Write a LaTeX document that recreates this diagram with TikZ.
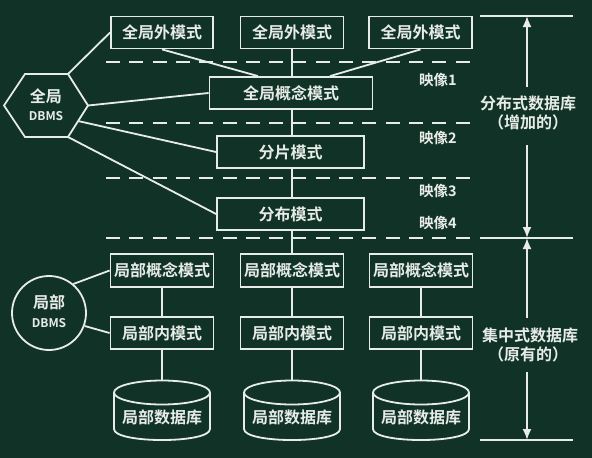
\documentclass[tikz,border=0pt]{standalone}
\usepackage{fontspec}
\newfontfamily\cjk{Noto Sans CJK SC}[UprightFont=* Bold]
\usetikzlibrary{arrows.meta}
\definecolor{board}{RGB}{17,51,39}
\definecolor{chalk}{RGB}{232,236,232}
\begin{document}
\begin{tikzpicture}[x=1pt,y=-1pt,
  every node/.style={text=chalk,font=\cjk\fontsize{16}{18}\selectfont},
  boxnode/.style={draw=chalk,line width=1.8pt,minimum height=32pt,inner sep=0pt},
  conn/.style={draw=chalk,line width=1.8pt},
  dashline/.style={draw=chalk,line width=1.8pt,dash pattern=on 14pt off 9.3pt},
  lbl/.style={font=\cjk\fontsize{14.5}{16}\selectfont},
  dbms/.style={font=\cjk\fontsize{12}{13}\selectfont},
  arr/.style={draw=chalk,line width=1.8pt,-{Latex[length=11pt,width=9pt]}}]
\fill[board] (0,0) rectangle (592,458);
\useasboundingbox (0,0) rectangle (592,458);
% top external schemas
\node[boxnode,minimum width=102pt] (g1) at (162,32.5) {全局外模式};
\node[boxnode,minimum width=103pt] (g2) at (292,32.5) {全局外模式};
\node[boxnode,minimum width=103pt] (g3) at (420.5,32.5) {全局外模式};
\node[boxnode,minimum width=163pt] (gc) at (291,93) {全局概念模式};
\node[boxnode,minimum width=147pt] (fp) at (290.5,152) {分片模式};
\node[boxnode,minimum width=147pt] (fb) at (290.5,214) {分布模式};
% local
\foreach \i/\x in {1/162,2/292,3/421}{
  \node[boxnode,minimum width=103pt,minimum height=33pt] (lc\i) at (\x,270.5) {局部概念模式};
  \node[boxnode,minimum width=103pt] (li\i) at (\x,333) {局部内模式};
  \coordinate (dt\i) at (\x,380.5);
  \draw[conn] (\x,392.5) ellipse [x radius=48, y radius=12];
  \draw[conn] (\x-48,392.5) -- (\x-48,429) .. controls (\x-48,443.7) and (\x+48,443.7) .. (\x+48,429) -- (\x+48,392.5);
  \node (db\i) at (\x,417) {局部数据库};
}
% dashed mapping lines
\foreach \y in {62,123,178,238}{
  \draw[dashline] (106,\y) -- (473,\y);
}
% connectors top
\draw[conn] (g1.south) -- ([xshift=-33pt]gc.north);
\draw[conn] (g2.south) -- (g2.south |- gc.north);
\draw[conn] (g3.south) -- ([xshift=39pt]gc.north);
\draw[conn] (g2.south |- gc.south) -- (g2.south |- fp.north);
\draw[conn] (g2.south |- fp.south) -- (g2.south |- fb.north);
\draw[conn] (g2.south |- fb.south) -- (lc2.north);
\foreach \i in {1,2,3}{
  \draw[conn] (lc\i.south) -- (li\i.north);
  \draw[conn] (li\i.south) -- (dt\i);
}
% global DBMS hexagon
\coordinate (h1) at (4,105.5);
\coordinate (h2) at (25,74);
\coordinate (h3) at (68,74);
\coordinate (h4) at (88,105.5);
\coordinate (h5) at (68,137);
\coordinate (h6) at (25,137);
\coordinate (h7) at (78,121);
\draw[conn,line join=miter] (h1) -- (h2) -- (h3) -- (h4) -- (h5) -- (h6) -- cycle;
\node (gd1) at (46,96) {全局};
\node[dbms] (gd2) at (46,116) {DBMS};
\draw[conn] (h3) -- (g1.west);
\draw[conn] (h4) -- (gc.west);
\draw[conn] (h7) -- (fp.west);
\draw[conn] (h5) -- (fb.west);
% local DBMS circle
\node[circle,draw=chalk,line width=1.8pt,minimum size=74pt,inner sep=0pt] (ld) at (49,313) {};
\node (ld1) at (49,302) {局部};
\node[dbms] (ld2) at (49,323) {DBMS};
\draw[conn] (ld.50) -- (lc1.west);
\draw[conn] (ld.-20) -- (li1.west);
% mapping labels
\node[lbl] (m1) at (438,80) {映像1};
\node[lbl] (m2) at (438,138) {映像2};
\node[lbl] (m3) at (438,191) {映像3};
\node[lbl] (m4) at (438,223) {映像4};
% right scale
\coordinate (r1a) at (480,16);   \coordinate (r1b) at (573,16);
\coordinate (r2a) at (480,238);  \coordinate (r2b) at (573,238);
\coordinate (r3a) at (480,440);  \coordinate (r3b) at (573,440);
\draw[conn] (r1a) -- (r1b);
\draw[conn] (r2a) -- (r2b);
\draw[conn] (r3a) -- (r3b);
\node (t1) at (528,103) {分布式数据库};
\node (t2) at (528,122) {（增加的）};
\node (t3) at (530,335) {集中式数据库};
\node (t4) at (528,354) {（原有的）};
\coordinate (a1) at (527,87);
\coordinate (a2) at (527,145);
\coordinate (a3) at (527,318);
\coordinate (a4) at (527,372);
\draw[arr] (a1) -- (a1 |- r1a);
\draw[arr] (a2) -- (a2 |- r2a);
\draw[arr] (a3) -- (a3 |- r2a);
\draw[arr] (a4) -- (a4 |- r3a);
\end{tikzpicture}
\end{document}
